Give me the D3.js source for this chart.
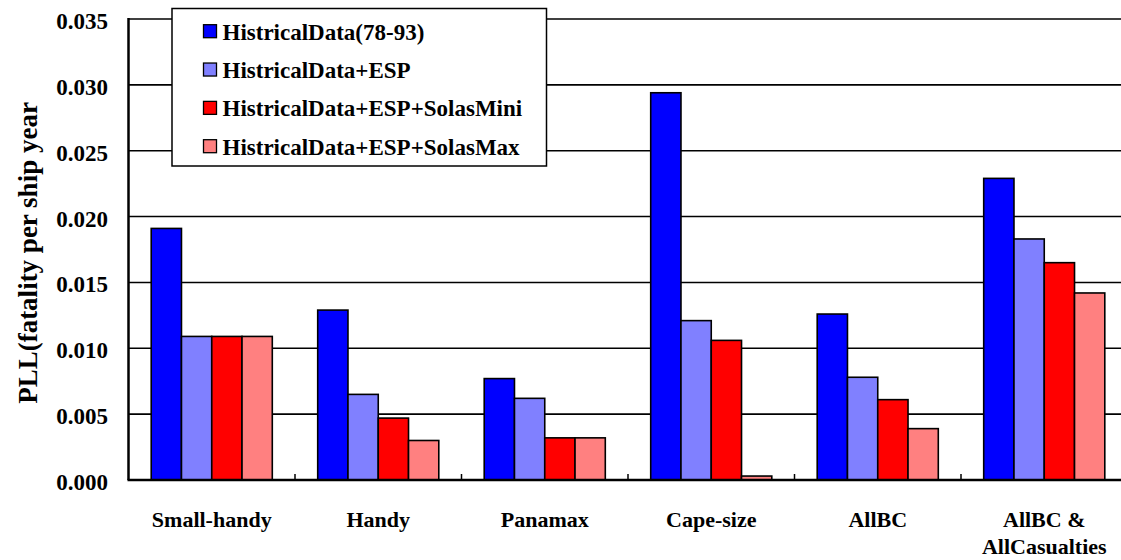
<!DOCTYPE html>
<html>
<head>
<meta charset="utf-8">
<script src="https://cdn.jsdelivr.net/npm/d3@7/dist/d3.min.js"></script>
<style>
  html, body { margin: 0; padding: 0; background: #fff; }
  svg { display: block; }
</style>
</head>
<body>
<svg id="chart" width="1121" height="560"></svg>
<script>
const categories = ['Small-handy', 'Handy', 'Panamax', 'Cape-size', 'AllBC', 'AllBC & AllCasualties'];
const categoryLines = [['Small-handy'], ['Handy'], ['Panamax'], ['Cape-size'], ['AllBC'], ['AllBC &', 'AllCasualties']];
const seriesNames = ['HistricalData(78-93)', 'HistricalData+ESP', 'HistricalData+ESP+SolasMini', 'HistricalData+ESP+SolasMax'];
const seriesColors = ['#0000ff', '#8080ff', '#ff0000', '#ff8080'];

const histData = [0.0191, 0.0129, 0.0077, 0.0294, 0.0126, 0.0229];
const espData = [0.0109, 0.0065, 0.0062, 0.0121, 0.0078, 0.0183];
const solasMiniData = [0.0109, 0.0047, 0.0032, 0.0106, 0.0061, 0.0165];
const solasMaxData = [0.0109, 0.0030, 0.0032, 0.0003, 0.0039, 0.0142];
const seriesValues = [histData, espData, solasMiniData, solasMaxData];

const yTicks = [0, 0.005, 0.010, 0.015, 0.020, 0.025, 0.030, 0.035];

const FONT = '"Liberation Serif", "Times New Roman", serif';

const svg = d3.select('#chart');

const LEFT = 128.5, RIGHT = 1127.5, TOP = 19, BOTTOM = 480;

const x0 = d3.scaleBand().domain(categories).range([LEFT, RIGHT]).padding(0);
const x1 = d3.scaleBand().domain(seriesNames).range([0, x0.bandwidth()])
    .paddingInner(0).paddingOuter(0.75);
const y = d3.scaleLinear().domain([0, 0.035]).range([BOTTOM, TOP]);

svg.append('rect').attr('width', 1121).attr('height', 560).attr('fill', '#fff');

// gridlines
svg.append('g')
    .selectAll('line')
    .data(yTicks.filter(d => d > 0))
    .join('line')
    .attr('x1', LEFT).attr('x2', RIGHT)
    .attr('y1', d => y(d)).attr('y2', d => y(d))
    .attr('stroke', '#000')
    .attr('stroke-width', 1.6);

// y tick labels
svg.append('g')
    .selectAll('text')
    .data(yTicks)
    .join('text')
    .attr('x', 108)
    .attr('y', d => y(d) + 10)
    .attr('text-anchor', 'end')
    .attr('font-family', FONT)
    .attr('font-weight', 'bold')
    .attr('font-size', 23)
    .text(d => d3.format('.3f')(d));

// bars
const groups = svg.append('g')
    .selectAll('g')
    .data(categories)
    .join('g')
    .attr('transform', d => `translate(${x0(d)},0)`);

groups.selectAll('rect')
    .data((c, ci) => seriesNames.map((s, si) => ({ s, si, v: seriesValues[si][ci] })))
    .join('rect')
    .attr('x', d => x1(d.s))
    .attr('y', d => y(d.v))
    .attr('width', x1.bandwidth())
    .attr('height', d => BOTTOM - y(d.v))
    .attr('fill', d => seriesColors[d.si])
    .attr('stroke', '#000')
    .attr('stroke-width', 1.6);

// axes
svg.append('line')
    .attr('x1', LEFT).attr('x2', LEFT)
    .attr('y1', TOP - 1).attr('y2', BOTTOM)
    .attr('stroke', '#000').attr('stroke-width', 2.5);
svg.append('line')
    .attr('x1', LEFT - 1).attr('x2', RIGHT)
    .attr('y1', BOTTOM).attr('y2', BOTTOM)
    .attr('stroke', '#000').attr('stroke-width', 2.5);

// category separator ticks
svg.append('g')
    .selectAll('line')
    .data(categories.slice(1))
    .join('line')
    .attr('x1', d => x0(d)).attr('x2', d => x0(d))
    .attr('y1', BOTTOM).attr('y2', BOTTOM - 6)
    .attr('stroke', '#000').attr('stroke-width', 1.5);

// x labels
const xl = svg.append('g')
    .selectAll('text')
    .data(categories)
    .join('text')
    .attr('text-anchor', 'middle')
    .attr('font-family', FONT)
    .attr('font-weight', 'bold')
    .attr('font-size', 22);
xl.each(function (d, i) {
    const t = d3.select(this);
    categoryLines[i].forEach((line, li) => {
        t.append('tspan')
            .attr('x', x0(d) + x0.bandwidth() / 2)
            .attr('y', 527 + li * 27)
            .text(line);
    });
});

// y title
svg.append('text')
    .attr('transform', 'translate(37,253) rotate(-90)')
    .attr('text-anchor', 'middle')
    .attr('font-family', FONT)
    .attr('font-weight', 'bold')
    .attr('font-size', 27)
    .text('PLL(fatality per ship year');

// legend
const legend = svg.append('g');
legend.append('rect')
    .attr('x', 172).attr('y', 8.5)
    .attr('width', 374.5).attr('height', 157.5)
    .attr('fill', '#fff')
    .attr('stroke', '#000')
    .attr('stroke-width', 1.5);

const rowY = d3.scalePoint().domain(seriesNames).range([31.7, 146.7]);
const items = legend.selectAll('g.item')
    .data(seriesNames)
    .join('g')
    .attr('class', 'item')
    .attr('transform', d => `translate(0,${rowY(d)})`);

items.append('rect')
    .attr('x', 203.5).attr('y', -7)
    .attr('width', 13).attr('height', 13)
    .attr('fill', (d, i) => seriesColors[i])
    .attr('stroke', '#000')
    .attr('stroke-width', 1.3);

items.append('text')
    .attr('x', 222.5)
    .attr('y', 8)
    .attr('font-family', FONT)
    .attr('font-weight', 'bold')
    .attr('font-size', 23)
    .text(d => d);
</script>
</body>
</html>
